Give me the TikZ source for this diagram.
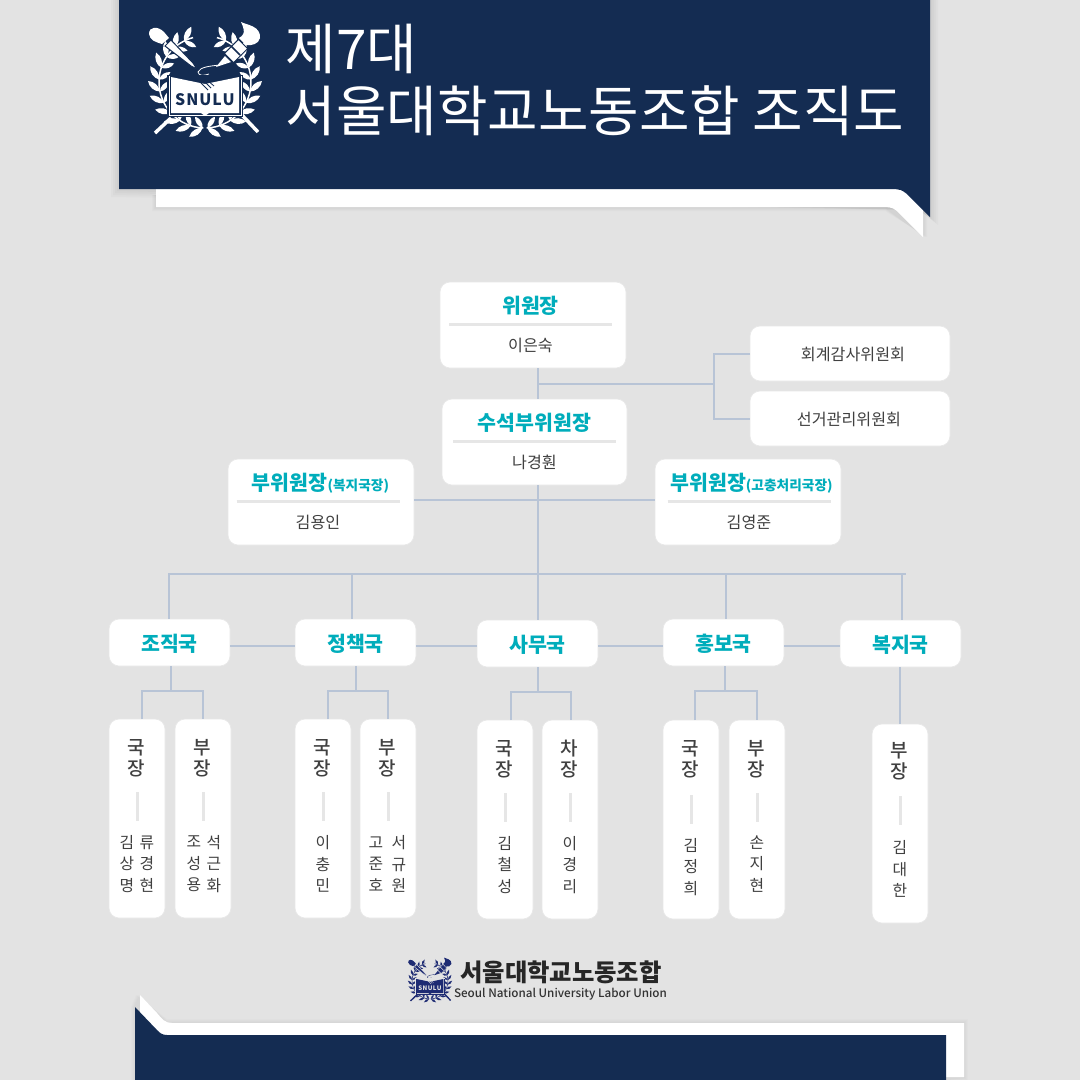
\documentclass[tikz,border=0pt]{standalone}
\usepackage{fontspec}
\setmainfont{Noto Sans CJK KR}
\newfontfamily\mediumfont{Noto Sans CJK KR Medium}
\usetikzlibrary{calc}

\def\pxu{0.02cm}
\definecolor{navy}{HTML}{142C52}
\definecolor{paper}{HTML}{E3E3E3}
\definecolor{teal}{HTML}{00ADBB}
\definecolor{linkblue}{HTML}{B8C4D6}
\definecolor{rulegray}{HTML}{E6E6E6}
\definecolor{inkgray}{HTML}{404040}
\definecolor{logoblue}{HTML}{1E2B73}

\tikzset{
        orgbox/.style={draw=black!9, line width=0.4pt, fill=white, rounded corners=10*\pxu, inner sep=0pt, outer sep=0pt, anchor=north west},
        link/.style={draw=linkblue, line width=2*\pxu},
        boxrule/.style={draw=rulegray, line width=3*\pxu},
        bosstext/.style={text=teal, font=\fontsize{11.7}{13}\bfseries\selectfont, inner sep=0pt},
        persontext/.style={text=inkgray, font=\fontsize{9.2}{11}\selectfont, inner sep=0pt},
        ranktext/.style={text=inkgray, align=center, font=\mediumfont\fontsize{10.8}{12}\selectfont, inner sep=0pt},
        nametext/.style={text=inkgray, align=center, font=\fontsize{9}{12.2}\selectfont, inner sep=0pt},
        headtext/.style={text=white, anchor=base west, inner sep=0pt, font=\fontsize{31.25}{36}\selectfont},
}

\newcommand{\headbox}[7]{
        \node[orgbox, minimum width=#4*\pxu, minimum height=86*\pxu] (#1) at (#2,#3) {};
        \node[bosstext] (#1title) at ($(#5,#3)+(0,24)$) {#6};
        \node[persontext] (#1name) at ($(#5,#3)+(0,63)$) {#7};
        \draw[boxrule] ($(#5,#3)+(-81.5,42)$) -- ($(#5,#3)+(81.5,42)$);
}
\newcommand{\sidebox}[5]{
        \node[orgbox, minimum width=200*\pxu, minimum height=55*\pxu] (#1) at (#2,#3) {};
        \node[persontext] (#1name) at ($(#1.center)+(#4,0.5)$) {#5};
}
\newcommand{\bureaubox}[4]{
        \node[orgbox, minimum width=121*\pxu, minimum height=47*\pxu] (#1) at (#2,#3) {};
        \node[bosstext] (#1title) at ($(#1.center)+(0,1.5)$) {#4};
}
\newcommand{\staffbox}[6][0]{
        \node[orgbox, minimum width=56*\pxu, minimum height=199*\pxu] (#2) at (#3,#4) {};
        \node[ranktext] (#2rank) at ($(#2.north)+(-1,39+#1)$) {#5};
        \draw[boxrule] ($(#2.north)+(0,73+#6)$) -- ($(#2.north)+(0,102+#6)$);
}
\newcommand{\staffnames}[5]{
        \node[nametext] (#1) at ($(#2.north)+(#3,145+#4)$) {#5};
}
\newcommand{\unionemblem}[7]{
        \begin{scope}[shift={(#1,#2)},scale=#3]
                \draw[#4, line width=#3*3.5*\pxu] (-50,51) -- (-34,36);
                \draw[#4, line width=#3*3.5*\pxu] (35,31) -- (53,50);
                \foreach \s in {1,-1}{
                        \begin{scope}[xscale=\s]
                                \draw[#4, line width=#3*1.5*\pxu] (92:46) arc (92:255:46);
                                \foreach \a in {93,108,...,243}{
                                        \fill[#4] (\a:46) to[bend left=38] (\a+13:57) to[bend left=38] cycle;
                                        \fill[#4] (\a:46) to[bend right=38] (\a+13:36) to[bend right=38] cycle;
                                }
                        \end{scope}
                }
                \fill[#4] (-56,-48) .. controls (-56,-56) and (-47,-56) .. (-41,-50) -- (-36,-44) -- (-43,-38) .. controls (-50,-40) and (-55,-42) .. (-56,-48) -- cycle;
                \filldraw[fill=#4, draw=#5, line width=#3*1*\pxu] (-40,-36) -- (-34,-42) -- (-12,-19) -- (-8,-13) -- (-14,-16) -- cycle;
                \filldraw[fill=#4, draw=#5, line width=#3*1*\pxu] (33.4,-42.6) -- (42.6,-33.4) -- (28.6,-19.4) -- (19.4,-28.6) -- cycle;
                \draw[#5, line width=#3*1.5*\pxu] (26,-36) -- (35,-27);
                \fill[#4] (20,-26) -- (26,-20) -- (11,-15) -- cycle;
                \fill[#4] (36,-60) .. controls (42,-57) and (56,-56) .. (55,-44) .. controls (54,-38) and (46,-36) .. (41,-37) -- (34,-44) .. controls (37,-46) and (42,-48) .. (36,-60) -- cycle;
                \draw[#4, line width=#3*0.8*\pxu] (15,-17) .. controls (5,-16) and (-5,-15) .. (-7,-10) .. controls (-6,-6) and (-2,-6) .. (4,-8);
                \filldraw[fill=#5, draw=#5] (-37.5,-7) -- (37.5,-7) -- (37.5,34.5) -- (-37.5,34.5) -- cycle;
                \draw[#4, line width=#3*0.8*\pxu] (-36,-6) -- (-36,33) -- (36,33) -- (36,-6);
                \fill[#4] (-34,-5) -- (0,2) -- (34,-5) -- (34,31) -- (4,31) -- (0,34) -- (-4,31) -- (-34,31) -- cycle;
                \draw[#5, line width=#3*0.8*\pxu] (-6,-1) -- (3,8) (-2,-2) -- (6,6) (2,-2) -- (9,4);
                \node[text=#5, inner sep=0pt, font=\fontsize{#7}{#7}\bfseries\selectfont] (#6) at (0,18) {S\kern.06em N\kern.06em U\kern.06em L\kern.06em U};
        \end{scope}
}

\begin{document}
\begin{tikzpicture}[x=\pxu, y=-\pxu]
        \useasboundingbox (0,0) rectangle (1080,1080);
        \fill[paper] (0,0) rectangle (1080,1080);

        \foreach \d in {2,4,6,8}{
                \fill[black, opacity=0.02] (119-\d,0) -- (930+\d,0) -- (930+\d,217+\d) -- (919,210) -- (119-\d,189+\d) -- cycle;
                \fill[black, opacity=0.015] (156-\d/2,195) -- (156-\d/2,207+\d/2) -- (885,207+\d/2) -- (923+\d/2,237) -- (923+\d/2,195) -- cycle;
                \fill[black, opacity=0.012] (135-\d/2,1080) -- (135-\d/2,1007) -- (140-\d/2,995) -- (167,1023-\d/2) -- (964+\d/2,1023-\d/2) -- (964+\d/2,1077+\d/2) -- (946,1080) -- cycle;
        }
        \fill[white] (156,189) -- (156,207) -- (885,207) .. controls (892,207) and (895,209) .. (899,213) -- (923,237) -- (923,189) -- cycle;
        \fill[navy] (119,0) -- (930,0) -- (930,217) -- (907,194) .. controls (902,190) and (899,189) .. (895,189) -- (119,189) -- cycle;
        \fill[white] (140,995) -- (157,1013) .. controls (162,1019) and (165,1023) .. (172,1023) -- (964,1023) -- (964,1077) -- (140,1077) -- cycle;
        \fill[navy] (135,1007) -- (157,1030) .. controls (160,1033) and (162,1035) .. (167,1035) -- (946,1035) -- (946,1080) -- (135,1080) -- cycle;

        \unionemblem{205}{82}{1}{white}{navy}{snulutop}{9}
        \node[headtext] (titleone) at (285.5,69) {제7대};
        \node[headtext] (titletwo) at (285.5,131) {서울대학교노동조합 조직도};

        \coordinate (trunk) at (537.5,500);
        \coordinate (commbus) at (714,384);
        \coordinate (busleft) at (168,574);
        \coordinate (busright) at (906,574);
        \coordinate (rowline) at (0,646);

        \headbox{chair}{440}{282}{186}{530.5}{위원장}{이은숙}
        \headbox{chief}{442}{399}{185}{534.5}{수석부위원장}{나경훤}
        \headbox{viceleft}{228}{459}{186}{318}{\kern 2.8pt 부위원장{\fontsize{7.8}{8}\selectfont(복지국장)}}{김용인}
        \headbox{viceright}{655}{459}{186}{749}{\kern 2.8pt 부위원장{\fontsize{7.8}{8}\selectfont(고충처리국장)}}{김영준}
        \sidebox{audit}{750}{326}{3}{회계감사위원회}
        \sidebox{election}{750}{391}{-1}{선거관리위원회}

        \bureaubox{orgbu}{109}{619}{조직국}
        \bureaubox{polbu}{295}{619}{정책국}
        \bureaubox{admbu}{477}{620}{사무국}
        \bureaubox{prbu}{663}{619}{홍보국}
        \bureaubox{welbu}{840}{620}{복지국}

        \staffbox{orghead}{109}{719}{국\\장}{0}
        \staffbox{orgdep}{175}{719}{부\\장}{0}
        \staffbox{polhead}{295}{719}{국\\장}{0}
        \staffbox{poldep}{360}{719}{부\\장}{0}
        \staffbox{admhead}{477}{720}{국\\장}{0}
        \staffbox{admdep}{542}{720}{차\\장}{0}
        \staffbox{prhead}{663}{720}{국\\장}{2}
        \staffbox{prdep}{729}{720}{부\\장}{0}
        \staffbox[-2]{weldep}{872}{724}{부\\장}{-1}

        \staffnames{nameA}{orghead}{-10}{0}{김\\상\\명}
        \staffnames{nameB}{orghead}{10}{0}{류\\경\\현}
        \staffnames{nameC}{orgdep}{-9}{0}{조\\성\\용}
        \staffnames{nameD}{orgdep}{11}{0}{석\\근\\화}
        \staffnames{nameE}{polhead}{0}{0}{이\\충\\민}
        \staffnames{nameF}{poldep}{-12}{0}{고\\준\\호}
        \staffnames{nameG}{poldep}{11}{0}{서\\규\\원}
        \staffnames{nameH}{admhead}{0}{0}{김\\철\\성}
        \staffnames{nameI}{admdep}{0}{0}{이\\경\\리}
        \staffnames{nameJ}{prhead}{0}{2}{김\\정\\희}
        \staffnames{nameK}{prdep}{0}{-1}{손\\지\\현}
        \staffnames{nameL}{weldep}{0}{0}{김\\대\\한}

        \draw[link] (trunk |- chair.south) -- (trunk |- chief.north);
        \draw[link] (trunk |- chief.south) -- (trunk |- admbu.north);
        \draw[link] (trunk |- commbus) -- (commbus);
        \draw[link] (audit.west) -| (commbus) |- (election.west);
        \draw[link] (viceleft.east |- trunk) -- (viceright.west |- trunk);
        \draw[link] (busleft) -- (busright);

        \foreach \bu/\dropx in {orgbu/169, polbu/352, prbu/726, welbu/902}{
                \coordinate (drop) at (\dropx,574);
                \draw[link] (drop) -- (drop |- \bu.north);
        }
        \foreach \from/\to in {orgbu/polbu, polbu/admbu, admbu/prbu, prbu/welbu}{
                \draw[link] (\from.east |- rowline) -- (\to.west |- rowline);
        }
        \foreach \bu/\lo/\hi/\stem/\lx/\rx/\yy in {orgbu/orghead/orgdep/171/142/203/691, polbu/polhead/poldep/356/328/388/691, admbu/admhead/admdep/538/511/571/692, prbu/prhead/prdep/725/695/757/691}{
                \draw[link] (\stem,\yy |- \bu.south) -- (\stem,\yy);
                \draw[link] (\lx,\yy |- \lo.north) -- (\lx,\yy) -- (\rx,\yy) -- (\rx,\yy |- \hi.north);
        }
        \coordinate (welstem) at (900,700);
        \draw[link] (welstem |- welbu.south) -- (welstem |- weldep.north);

        \unionemblem{430}{981}{0.39}{logoblue}{paper}{snulubottom}{3.5}
        \node[inner sep=0pt, text=black!85, font=\fontsize{13.85}{15}\bfseries\selectfont] (logokor) at (561,972) {서울대학교노동조합};
        \node[inner sep=0pt, text=black!80, font=\mediumfont\fontsize{6.65}{8}\selectfont] (logoeng) at (560.5,994) {Seoul National University Labor Union};
\end{tikzpicture}
\end{document}
